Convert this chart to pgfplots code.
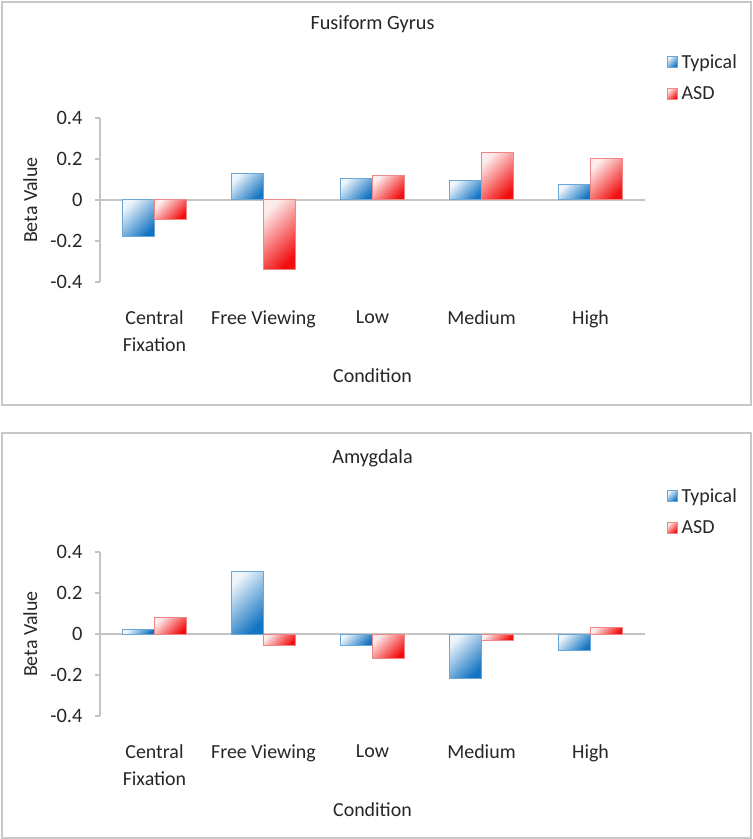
\documentclass[border=0pt]{standalone}
\usepackage{pgfplots}
\pgfplotsset{compat=1.18}
\usepackage{fontspec}
\setmainfont{Carlito}
\definecolor{framegray}{HTML}{C8C8C8}
\definecolor{axgray}{HTML}{C4C4C4}
\definecolor{txt}{HTML}{262626}
\definecolor{blueL}{HTML}{EEF5FB}
\definecolor{blueD}{HTML}{1274C2}
\definecolor{blueE}{HTML}{6AA6D6}
\definecolor{redL}{HTML}{FDECEC}
\definecolor{redD}{HTML}{F20E0E}
\definecolor{redE}{HTML}{F08585}

\pgfplotsset{
  panel/.style={
    width=545bp, height=164bp, scale only axis,
    xmin=-0.5, xmax=4.5, ymin=-0.4, ymax=0.4,
    ybar=0pt, bar width=32bp,
    axis x line=bottom, axis y line=left,
    x axis line style={draw=none},
    y axis line style={-, axgray, line width=1.3bp},
    xtick={0,1,2,3,4},
    xticklabels={Central\\Fixation, Free Viewing, Low, Medium, High},
    xticklabel style={align=center, font=\fontsize{20}{27}\selectfont, text=txt, yshift=-20bp},
    xtick style={draw=none},
    ytick={-0.4,-0.2,0,0.2,0.4},
    yticklabels={-0.4,-0.2,0,0.2,0.4},
    yticklabel style={font=\fontsize{20.5}{24}\selectfont, text=txt, xshift=-9bp},
    ytick style={axgray, line width=1.3bp},
    tick align=outside, major tick length=5bp,
    ylabel={Beta Value},
    ylabel style={at={(axis description cs:-0.128,0.5)}, anchor=center, font=\fontsize{20}{24}\selectfont, text=txt},
    xlabel={Condition},
    xlabel style={at={(axis description cs:0.5,-0.573)}, anchor=center, font=\fontsize{20}{24}\selectfont, text=txt},
    title style={at={(axis description cs:0.5,1.535)}, anchor=center, yshift=0pt, font=\fontsize{20.3}{24}\selectfont, text=txt},
    legend style={at={(axis description cs:1.040,1.40)}, anchor=north west, draw=none, fill=none,
      font=\fontsize{20}{24}\selectfont, text=txt, row sep=13bp, column sep=2bp, inner sep=0pt},
    legend cell align=left,
    legend image code/.code={\draw[#1, line width=0.6bp] (0bp,-5bp) rectangle (10bp,6bp);},
  },
  typ/.style={draw=blueE, line width=1bp, top color=blueL, bottom color=blueD, shading angle=45, bar shift=-16bp},
  asd/.style={draw=redE, line width=1bp, top color=redL, bottom color=redD, shading angle=45, bar shift=16bp},
}

\begin{document}
\begin{tikzpicture}
\useasboundingbox (0,0) rectangle (753bp,839bp);
\draw[framegray, line width=2bp] (2bp,837bp) rectangle (751bp,434bp);
\draw[framegray, line width=2bp] (2bp,406bp) rectangle (751bp,1bp);

\begin{axis}[panel, at={(100bp,557bp)}, anchor=south west, title={Fusiform Gyrus}]
\draw[axgray, line width=1.6bp] (axis cs:-0.5,0) -- (axis cs:4.5,0);
% Typical
\addplot[typ] coordinates {(0,-0.18)};
\addlegendentry{Typical}
\addplot[asd] coordinates {(0,-0.096)};
\addlegendentry{ASD}
\addplot[typ, forget plot] coordinates {(1,0.13)};
\addplot[typ, forget plot] coordinates {(2,0.107)};
\addplot[typ, forget plot] coordinates {(3,0.094)};
\addplot[typ, forget plot] coordinates {(4,0.075)};
% ASD
\addplot[asd, forget plot] coordinates {(1,-0.34)};
\addplot[asd, forget plot] coordinates {(2,0.12)};
\addplot[asd, forget plot] coordinates {(3,0.23)};
\addplot[asd, forget plot] coordinates {(4,0.20)};
\end{axis}

\begin{axis}[panel, at={(100bp,123bp)}, anchor=south west, title={Amygdala}]
\draw[axgray, line width=1.6bp] (axis cs:-0.5,0) -- (axis cs:4.5,0);
% Typical
\addplot[typ] coordinates {(0,0.02)};
\addlegendentry{Typical}
\addplot[asd] coordinates {(0,0.08)};
\addlegendentry{ASD}
\addplot[typ, forget plot] coordinates {(1,0.306)};
\addplot[typ, forget plot] coordinates {(2,-0.055)};
\addplot[typ, forget plot] coordinates {(3,-0.217)};
\addplot[typ, forget plot] coordinates {(4,-0.079)};
% ASD
\addplot[asd, forget plot] coordinates {(1,-0.056)};
\addplot[asd, forget plot] coordinates {(2,-0.12)};
\addplot[asd, forget plot] coordinates {(3,-0.033)};
\addplot[asd, forget plot] coordinates {(4,0.03)};
\end{axis}
\end{tikzpicture}
\end{document}
